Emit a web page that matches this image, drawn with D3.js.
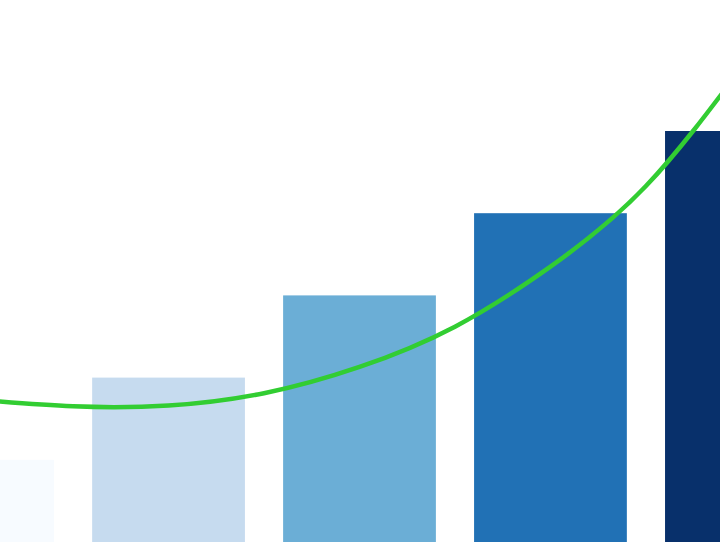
<!DOCTYPE html>
<html>
<head>
<meta charset="utf-8">
<script src="https://cdn.jsdelivr.net/npm/d3@7"></script>
<style>
	body { margin: 0; background: #fff; }
	svg { display: block; }
</style>
</head>
<body>
<div class="chart"></div>
<script>
	// data
	var categories = ["A", "B", "C", "D", "E"];
	var barValues = [1, 2, 3, 4, 5];
	var barColors = ["#f7fbff", "#c6dbef", "#6baed6", "#2171b5", "#08306b"];
	// trend curve read at every half category (0 = first bar, 4 = last bar)
	var trendIndex = [0, 0.5, 1, 1.5, 2, 2.5, 3, 3.5, 4];
	var trendValues = [1.73, 1.65, 1.66, 1.81, 2.13, 2.62, 3.35, 4.33, 5.77];

	var width = 720,
		height = 550;

	var svg = d3.select(".chart").append("svg")
		.attr("width", width)
		.attr("height", height);

	// the plot is wider than the window, so it is cut at both sides
	var x = d3.scaleBand()
		.domain(categories)
		.range([-137, 856])
		.padding(0.2);

	var y = d3.scaleLinear()
		.domain([0, 5])
		.range([542, 131]);

	// bar centres, for the curve
	var xc = d3.scaleLinear()
		.domain([0, categories.length - 1])
		.range([x(categories[0]) + x.bandwidth() / 2,
			x(categories[categories.length - 1]) + x.bandwidth() / 2]);

	// bars
	svg.selectAll("rect")
		.data(barValues).enter()
		.append("rect")
		.attr("x", function(d, i) { return x(categories[i]); })
		.attr("y", function(d) { return y(d); })
		.attr("width", x.bandwidth())
		.attr("height", function(d) { return y(0) - y(d); })
		.attr("fill", function(d, i) { return barColors[i]; });

	// green trend curve
	var line = d3.line()
		.x(function(d, i) { return xc(trendIndex[i]); })
		.y(function(d) { return y(d); })
		.curve(d3.curveNatural);

	svg.append("path")
		.datum(trendValues)
		.attr("d", line)
		.attr("fill", "none")
		.attr("stroke", "#32cd32")
		.attr("stroke-width", 4.5);
</script>
</body>
</html>
